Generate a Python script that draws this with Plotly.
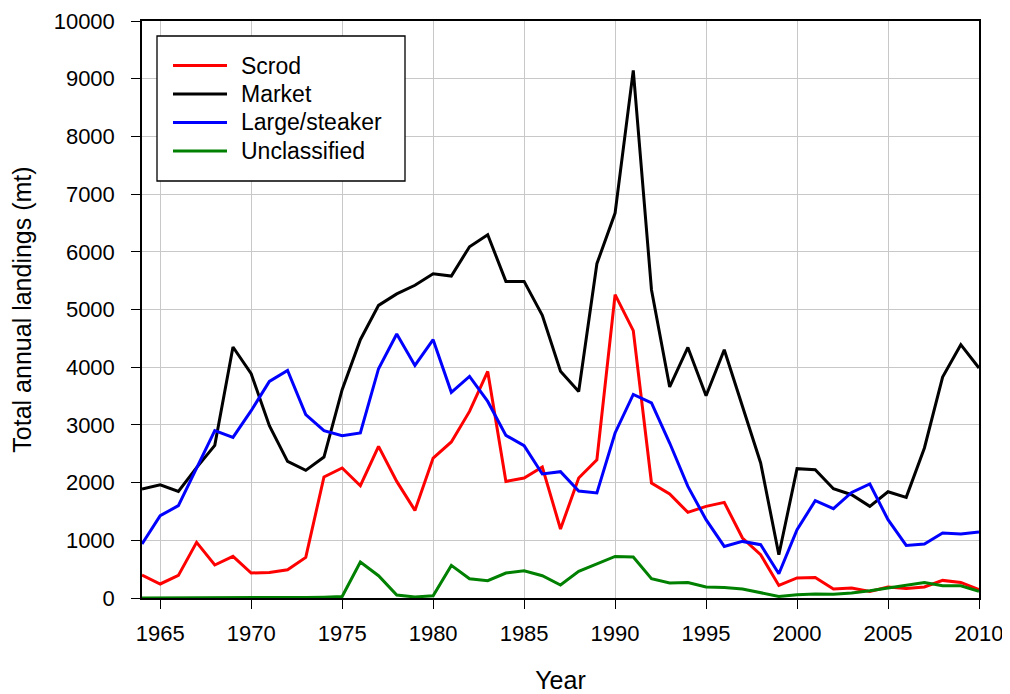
import plotly.graph_objects as go

years = list(range(1964, 2011))

scrod = [398, 243, 392, 964, 572, 721, 433, 444, 490, 704,
         2097, 2253, 1946, 2628, 2021, 1518, 2426, 2704, 3234, 3927,
         2021, 2080, 2270, 1196, 2080, 2397, 5257, 4633, 1993, 1802,
         1484, 1588, 1657, 1040, 750, 218, 347, 357, 156, 173,
         115, 191, 166, 191, 305, 270, 144]

market = [1889, 1960, 1848, 2260, 2645, 4350, 3887, 2986, 2368, 2212,
          2443, 3610, 4477, 5071, 5270, 5420, 5620, 5580, 6088, 6296,
          5487, 5487, 4900, 3930, 3580, 5794, 6672, 9144, 5343, 3657,
          4343, 3506, 4303, 3333, 2340, 750, 2241, 2224, 1894, 1790,
          1588, 1842, 1744, 2600, 3830, 4390, 3986]

large = [935, 1426, 1600, 2253, 2900, 2783, 3246, 3754, 3945, 3177,
         2900, 2813, 2860, 3974, 4575, 4031, 4477, 3564, 3841, 3407,
         2818, 2640, 2149, 2189, 1854, 1820, 2860, 3529, 3380, 2686,
         1934, 1357, 894, 981, 924, 421, 1184, 1686, 1548, 1830,
         1976, 1357, 912, 935, 1126, 1109, 1144]

unclassified = [0, 0, 0, 0, 0, 0, 5, 0, 0, 10,
                15, 25, 624, 386, 52, 17, 40, 565, 334, 300,
                433, 473, 386, 225, 461, 589, 721, 711, 334, 260,
                270, 191, 180, 156, 97, 28, 57, 69, 63, 87,
                127, 179, 225, 270, 213, 213, 115]

series_names = ["Scrod", "Market", "Large/steaker", "Unclassified"]
series_values = [scrod, market, large, unclassified]
series_colors = ["#ff0000", "#000000", "#0000ff", "#008000"]

x_ticks = list(range(1965, 2011, 5))
y_ticks = list(range(0, 10001, 1000))
y_labels = [str(v) for v in y_ticks]

# figure geometry (page body adds an 8px offset)
W, H = 1002, 686
ML, MR, MT, MB = 134, 31, 13, 96
PW = W - ML - MR
PH = H - MT - MB


def px(fx):
    return (fx - ML) / PW


def py(fy):
    return (H - MB - fy) / PH


fig = go.Figure()
for name, vals, color in zip(series_names, series_values, series_colors):
    fig.add_trace(go.Scatter(x=years, y=vals, mode="lines", name=name,
                             line=dict(color=color, width=3)))

font_family = "Liberation Sans, Arial, sans-serif"

# legend box drawn in paper coordinates
shapes = [dict(type="rect", xref="paper", yref="paper",
               x0=px(149), x1=px(397), y0=py(173), y1=py(28),
               line=dict(color="black", width=1.3), fillcolor="white", layer="above")]
annotations = []
row_y = [57.5, 86, 114.5, 143]
for name, color, ry in zip(series_names, series_colors, row_y):
    shapes.append(dict(type="line", xref="paper", yref="paper",
                       x0=px(165), x1=px(219), y0=py(ry), y1=py(ry),
                       line=dict(color=color, width=3), layer="above"))
    annotations.append(dict(text=name, xref="paper", yref="paper",
                            x=px(231), y=py(ry), xanchor="left", yanchor="middle",
                            showarrow=False, font=dict(size=23, color="black")))

fig.update_layout(
    width=W, height=H,
    margin=dict(l=ML, r=MR, t=MT, b=MB, autoexpand=False),
    paper_bgcolor="white", plot_bgcolor="white",
    font=dict(family=font_family, size=22, color="black"),
    showlegend=False,
    shapes=shapes,
    annotations=annotations,
    xaxis=dict(range=[1964, 2010], tickvals=x_ticks, automargin=False,
               ticks="outside", ticklen=9, tickwidth=1.2, tickcolor="black",
               showline=True, linecolor="black", linewidth=1.5, mirror=True,
               showgrid=True, gridcolor="#c8c8c8", gridwidth=1.2,
               zeroline=False, ticklabelstandoff=6,
               title=dict(text="Year", font=dict(size=25), standoff=27),
               tickfont=dict(size=22)),
    yaxis=dict(range=[0, 10000], tickvals=y_ticks, ticktext=y_labels, automargin=False,
               ticks="outside", ticklen=9, tickwidth=1.2, tickcolor="black",
               showline=True, linecolor="black", linewidth=1.5, mirror=True,
               showgrid=True, gridcolor="#c8c8c8", gridwidth=1.2,
               zeroline=False, ticklabelstandoff=12,
               title=dict(text="Total annual landings (mt)", font=dict(size=25), standoff=20),
               tickfont=dict(size=22)),
)

fig.write_html("out.html")
